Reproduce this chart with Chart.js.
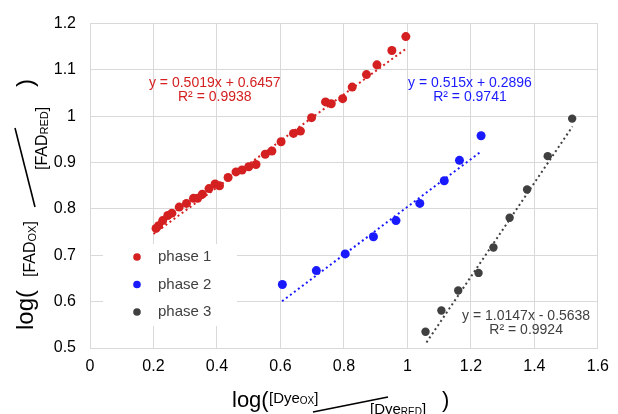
<!DOCTYPE html>
<html>
<head>
<meta charset="utf-8">
<script src="https://cdn.jsdelivr.net/npm/chart.js@4/dist/chart.umd.min.js"></script>
<style>
html, body { margin: 0; padding: 0; background: #fff; }
#wrap { position: relative; width: 618px; height: 414px; }
</style>
</head>
<body>
<div id="wrap"><canvas id="phaseChart" width="618" height="414"></canvas></div>
<script>
// ----------- Data -----------
const seriesNames = ['phase 1', 'phase 2', 'phase 3'];
const seriesColors = ['#d42020', '#1a1aff', '#404040'];

const phase1X = [0.208, 0.216, 0.229, 0.245, 0.258, 0.281, 0.304, 0.326, 0.339, 0.354, 0.375, 0.394, 0.408,
                 0.435, 0.460, 0.479, 0.500, 0.523, 0.552, 0.573, 0.602, 0.641, 0.663, 0.698, 0.742, 0.760,
                 0.796, 0.826, 0.871, 0.904, 0.951, 0.995];
const phase1Y = [0.758, 0.764, 0.775, 0.786, 0.791, 0.804, 0.812, 0.823, 0.823, 0.832, 0.844, 0.854, 0.850,
                 0.868, 0.880, 0.884, 0.891, 0.896, 0.918, 0.925, 0.945, 0.963, 0.968, 0.997, 1.031, 1.027,
                 1.038, 1.063, 1.090, 1.111, 1.142, 1.172];

const phase2X = [0.606, 0.713, 0.804, 0.893, 0.964, 1.039, 1.116, 1.164, 1.232];
const phase2Y = [0.637, 0.667, 0.703, 0.740, 0.775, 0.812, 0.861, 0.905, 0.958];

const phase3X = [1.057, 1.107, 1.160, 1.224, 1.271, 1.322, 1.377, 1.442, 1.519];
const phase3Y = [0.535, 0.581, 0.624, 0.662, 0.717, 0.781, 0.842, 0.914, 0.995];

// trendline end points
const trend1X = [0.2, 1.0];
const trend1Y = [0.746, 1.148];
const trend2X = [0.605, 1.23];
const trend2Y = [0.601, 0.923];
const trend3X = [1.06, 1.52];
const trend3Y = [0.512, 0.978];

const fitTexts = [
    ['y = 0.5019x + 0.6457', 'R² = 0.9938'],
    ['y = 0.515x + 0.2896', 'R² = 0.9741'],
    ['y = 1.0147x - 0.5638', 'R² = 0.9924']
];

const xTickValues = [0, 0.2, 0.4, 0.6, 0.8, 1, 1.2, 1.4, 1.6];
const xTickLabels = ['0', '0.2', '0.4', '0.6', '0.8', '1', '1.2', '1.4', '1.6'];
const yTickValues = [0.5, 0.6, 0.7, 0.8, 0.9, 1, 1.1, 1.2];
const yTickLabels = ['0.5', '0.6', '0.7', '0.8', '0.9', '1', '1.1', '1.2'];

// ----------- Layout / style -----------
const FONT = 'Helvetica, Arial, "Liberation Sans", sans-serif';
const GRID = '#d9d9d9';
// where the fit equations sit (data units, centre of text)
const fitAnchors = [{ x: 0.393, y: 1.072 }, { x: 1.197, y: 1.072 }, { x: 1.374, y: 0.568 }];
const pointSizes = [4.5, 4.5, 4.2];

const toPoints = (xs, ys) => xs.map((x, i) => ({ x: x, y: ys[i] }));

function scatterSet(i, xs, ys) {
    return {
        label: seriesNames[i],
        data: toPoints(xs, ys),
        showLine: false,
        pointRadius: pointSizes[i],
        pointHoverRadius: pointSizes[i],
        pointBackgroundColor: seriesColors[i],
        pointBorderWidth: 0,
        order: 0
    };
}

function trendSet(i, xs, ys) {
    return {
        label: seriesNames[i] + ' trend',
        data: toPoints(xs, ys),
        showLine: true,
        pointRadius: 0,
        borderColor: seriesColors[i],
        borderWidth: 2,
        borderDash: [2, 3],
        fill: false,
        order: 1
    };
}

// draws log( [A_sub] / [A_sub] ) style titles
function drawFraction(ctx, s) {
    ctx.save();
    ctx.translate(s.x, s.y);
    ctx.rotate(s.angle);
    ctx.fillStyle = '#000';
    ctx.strokeStyle = '#000';
    ctx.textBaseline = 'alphabetic';
    ctx.textAlign = 'left';

    ctx.font = s.big + 'px ' + FONT;
    ctx.fillText('log(', 0, 0);

    const part = (u, v, base, sub) => {
        ctx.font = s.small + 'px ' + FONT;
        ctx.fillText('[' + base, u, v);
        u += ctx.measureText('[' + base).width;
        ctx.font = s.tiny + 'px ' + FONT;
        ctx.fillText(sub, u, v + 1);
        u += ctx.measureText(sub).width;
        ctx.font = s.small + 'px ' + FONT;
        ctx.fillText(']', u, v);
    };
    part(s.numU, s.numV, s.base, 'OX');
    part(s.denU, s.denV, s.base, 'RED');

    ctx.lineWidth = 1.6;
    ctx.beginPath();
    ctx.moveTo(s.line[0], s.line[1]);
    ctx.lineTo(s.line[2], s.line[3]);
    ctx.stroke();

    ctx.font = s.big + 'px ' + FONT;
    ctx.fillText(')', s.closeU, 0);
    ctx.restore();
}

const extrasPlugin = {
    id: 'extras',
    beforeDatasetsDraw(chart) {
        // legend box inside the plot
        const ctx = chart.ctx;
        ctx.save();
        ctx.fillStyle = '#fff';
        ctx.fillRect(103, 244, 134, 82);
        ctx.font = '15px ' + FONT;
        ctx.textBaseline = 'middle';
        ctx.textAlign = 'left';
        seriesNames.forEach((name, i) => {
            const y = 257 + i * 27.5;
            ctx.fillStyle = seriesColors[i];
            ctx.beginPath();
            ctx.arc(137, y, 3.8, 0, Math.PI * 2);
            ctx.fill();
            ctx.fillStyle = '#404040';
            ctx.fillText(name, 158, y);
        });
        ctx.restore();
    },
    afterDraw(chart) {
        const ctx = chart.ctx;
        const xs = chart.scales.x, ys = chart.scales.y;
        ctx.save();
        ctx.font = '14px ' + FONT;
        ctx.textAlign = 'center';
        ctx.textBaseline = 'middle';
        fitTexts.forEach((lines, i) => {
            const px = xs.getPixelForValue(fitAnchors[i].x);
            const py = ys.getPixelForValue(fitAnchors[i].y);
            ctx.fillStyle = seriesColors[i];
            ctx.fillText(lines[0], px, py);
            ctx.fillText(lines[1], px, py + 14);
        });
        ctx.restore();

        drawFraction(ctx, {
            x: 232, y: 407, angle: 0, big: 22, small: 15, tiny: 10, base: 'Dye',
            numU: 37, numV: -4, denU: 138, denV: 7,
            line: [81, 5, 156, -10], closeU: 210
        });
        drawFraction(ctx, {
            x: 33, y: 330, angle: -Math.PI / 2, big: 24, small: 16, tiny: 11, base: 'FAD',
            numU: 53, numV: 2, denU: 160, denV: 14,
            line: [123, 2, 202, -18], closeU: 243
        });
    }
};

// ----------- Chart -----------
document.addEventListener('DOMContentLoaded', () => {
    const ctx = document.getElementById('phaseChart').getContext('2d');
    new Chart(ctx, {
        type: 'scatter',
        data: {
            datasets: [
                scatterSet(0, phase1X, phase1Y),
                scatterSet(1, phase2X, phase2Y),
                scatterSet(2, phase3X, phase3Y),
                trendSet(0, trend1X, trend1Y),
                trendSet(1, trend2X, trend2Y),
                trendSet(2, trend3X, trend3Y)
            ]
        },
        options: {
            responsive: false,
            animation: false,
            devicePixelRatio: 1,
            layout: { padding: { top: 23, right: 16, left: 0, bottom: 0 } },
            plugins: {
                legend: { display: false },
                tooltip: { enabled: false }
            },
            scales: {
                x: {
                    type: 'linear',
                    min: 0,
                    max: 1.6,
                    afterBuildTicks: axis => { axis.ticks = xTickValues.map(v => ({ value: v })); },
                    afterFit: axis => { axis.height = 66; },
                    ticks: {
                        callback: (v, i) => xTickLabels[i],
                        color: '#000',
                        font: { family: FONT, size: 16 },
                        padding: 9,
                        maxRotation: 0
                    },
                    grid: { color: GRID, drawTicks: false },
                    border: { color: GRID }
                },
                y: {
                    type: 'linear',
                    min: 0.5,
                    max: 1.2,
                    afterBuildTicks: axis => { axis.ticks = yTickValues.map(v => ({ value: v })); },
                    afterFit: axis => { axis.width = 90; },
                    ticks: {
                        callback: (v, i) => yTickLabels[i],
                        color: '#000',
                        font: { family: FONT, size: 16 },
                        padding: 14
                    },
                    grid: { color: GRID, drawTicks: false },
                    border: { color: GRID }
                }
            }
        },
        plugins: [extrasPlugin]
    });
});
</script>
</body>
</html>
